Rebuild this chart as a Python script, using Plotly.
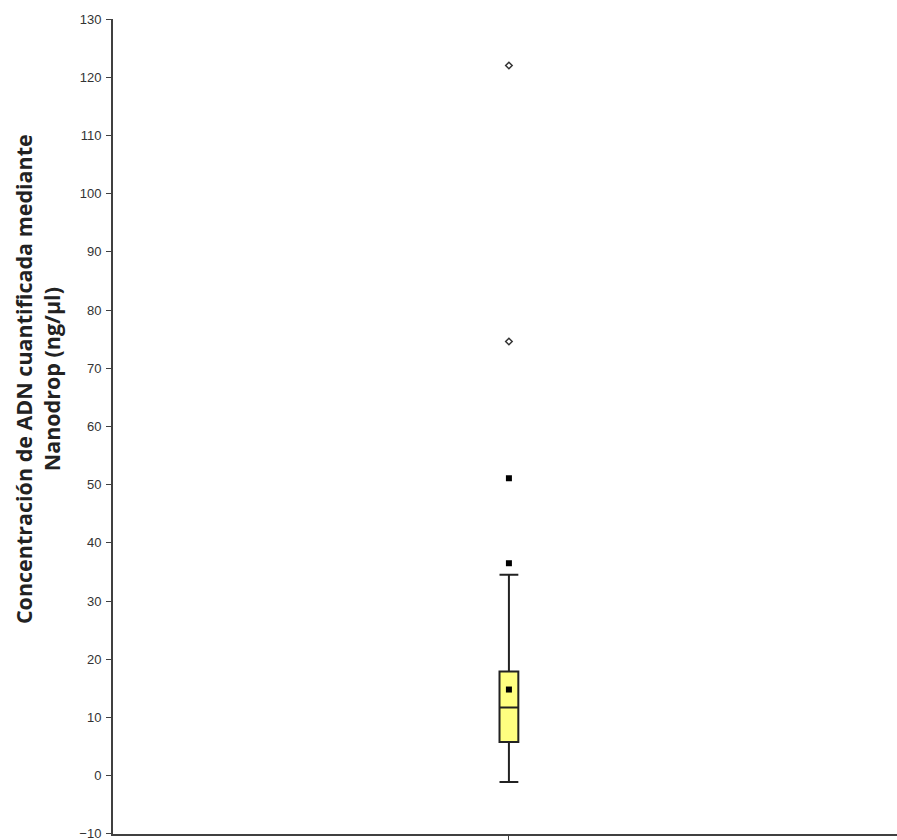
import plotly.graph_objects as go

# Summary statistics
category = ["Nanodrop"]
q1 = [5.8]
median = [11.7]
q3 = [17.9]
lower_whisker = [-1.1]
upper_whisker = [34.5]
mean_value = [14.8]
mild_outliers = [36.5, 51.1]
extreme_outliers = [74.6, 122.0]
y_ticks = list(range(-10, 131, 10))

fig = go.Figure()
fig.add_trace(go.Box(
    x=[0], q1=q1, median=median, q3=q3,
    lowerfence=lower_whisker, upperfence=upper_whisker,
    width=0.048, whiskerwidth=1.0,
    fillcolor="#FFFF80", line=dict(color="#222222", width=2),
    boxpoints=False, showlegend=False, hoverinfo="y",
))
fig.add_trace(go.Scatter(
    x=[0], y=mean_value, mode="markers",
    marker=dict(symbol="square", size=6, color="#000000"), showlegend=False,
))
fig.add_trace(go.Scatter(
    x=[0] * len(mild_outliers), y=mild_outliers, mode="markers",
    marker=dict(symbol="square", size=6, color="#000000"), showlegend=False,
))
fig.add_trace(go.Scatter(
    x=[0] * len(extreme_outliers), y=extreme_outliers, mode="markers",
    marker=dict(symbol="diamond-open", size=5, color="#333333", line=dict(width=1.5)),
    showlegend=False,
))

fig.update_layout(
    width=897, height=840,
    margin=dict(l=113, r=0, t=19, b=6),
    plot_bgcolor="white", paper_bgcolor="white",
    font=dict(family="Arial, Liberation Sans, sans-serif", color="#404040"),
    xaxis=dict(range=[-1.01, 0.99], showgrid=False, zeroline=False,
               showline=True, linecolor="#404040", linewidth=2,
               tickvals=[0], ticktext=[""], ticks="outside", ticklen=5,
               tickcolor="#404040", tickwidth=1),
    yaxis=dict(range=[-10.02, 130], tickvals=y_ticks, showgrid=False, zeroline=False,
               showline=True, linecolor="#404040", linewidth=2,
               ticks="outside", ticklen=5, tickcolor="#404040", tickwidth=1,
               tickfont=dict(size=13, color="#333333"), ticklabelstandoff=2,
               ticklabeloverflow="allow"),
    annotations=[dict(
        text="<b>Concentración de ADN cuantificada mediante<br>Nanodrop (ng/µl)</b>",
        xref="paper", yref="paper", x=-0.136, y=0.558,
        xanchor="left", yanchor="middle", textangle=-90, showarrow=False,
        font=dict(family="Open Sans, sans-serif", size=21.5, color="#222222"),
    )],
)

fig.write_html("out.html")
